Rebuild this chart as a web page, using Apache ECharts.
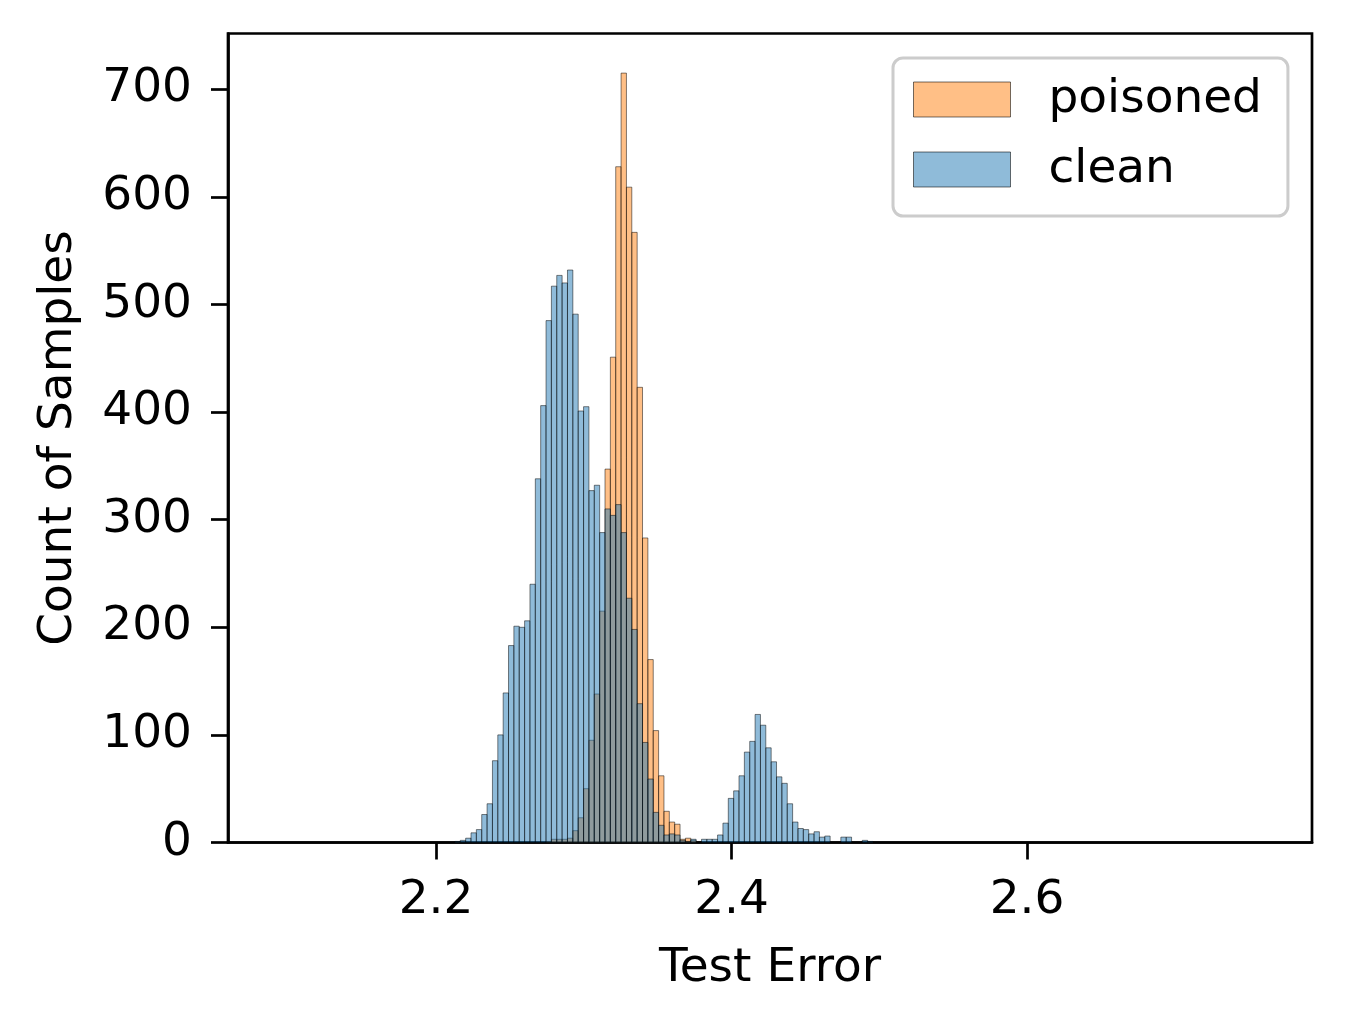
<!DOCTYPE html>
<html>
<head>
<meta charset="utf-8">
<script src="https://cdn.jsdelivr.net/npm/echarts@6/dist/echarts.min.js"></script>
<style>
html,body{margin:0;padding:0;background:#fff;}
#chart{width:1348px;height:1025px;}
</style>
</head>
<body>
<div id="chart"></div>
<script>
// Histogram bins (shared bin grid)
const binOrigin = 2.21279;   // left edge of first clean bin
const binWidth = 0.003628;

// clean counts, starting at bin 0
const cleanCounts = [1, 2, 4, 9, 12, 26, 36, 76, 100, 139, 183, 201, 200, 206, 240,
  338, 406, 485, 517, 527, 520, 532, 491, 401, 405, 327, 332, 288, 310, 304, 314, 288, 227, 198, 129, 93, 59, 28, 16, 7, 8, 7, 2, 1, 3, 0, 3, 3, 3,
  7, 18, 41, 48, 62, 84, 94, 119, 109, 88, 75, 61, 55, 36, 19, 13, 12, 8, 10, 5, 6, 0, 0, 5, 5, 0, 0, 2, 1];
// poisoned counts, starting at bin 17
const poisonedStartBin = 17;
const poisonedCounts = [1, 3, 3, 3, 4, 11, 23, 50, 95, 138, 215, 347, 451, 628, 715, 609, 567, 423, 283, 170, 104, 62, 29, 19, 17, 3, 4, 2];

const xTicks = [2.2, 2.4, 2.6];
const yTicks = [0, 100, 200, 300, 400, 500, 600, 700];
const seriesNames = ['poisoned', 'clean'];

function toRects(counts, startBin) {
  const out = [];
  counts.forEach((c, i) => {
    if (c <= 0) return;
    const x0 = binOrigin + (startBin + i) * binWidth;
    out.push([x0, x0 + binWidth, c]);
  });
  return out;
}

const fills = {
  poisoned: 'rgba(255,127,14,0.5)',
  clean: 'rgba(31,119,180,0.5)'
};
const edge = 'rgba(0,0,0,0.55)';

function makeSeries(name, data) {
  return {
    name: name,
    type: 'custom',
    data: data,
    encode: { x: [0, 1], y: 2 },
    itemStyle: { color: fills[name], borderColor: edge, borderWidth: 1 },
    renderItem: function (params, api) {
      const p0 = api.coord([api.value(0), api.value(2)]);
      const p1 = api.coord([api.value(1), 0]);
      return {
        type: 'rect',
        shape: { x: p0[0], y: p0[1], width: p1[0] - p0[0], height: p1[1] - p0[1] },
        style: { fill: fills[name], stroke: edge, lineWidth: 0.9 }
      };
    }
  };
}

const font = 'DejaVu Sans';
const chart = echarts.init(document.getElementById('chart'), null, { renderer: 'canvas' });
chart.setOption({
  animation: false,
  backgroundColor: '#fff',
  grid: { left: 228, right: 36, top: 33.5, bottom: 182.5, show: true, borderColor: '#000', borderWidth: 2.7, backgroundColor: 'transparent' },
  xAxis: {
    type: 'value', min: 2.0592, max: 2.7929,
    name: 'Test Error', nameLocation: 'middle', nameGap: 103,
    nameTextStyle: { fontFamily: font, fontSize: 47, color: '#000' },
    axisLine: { show: true, lineStyle: { color: '#000', width: 2.7 } },
    axisTick: { show: true, length: 17, lineStyle: { color: '#000', width: 2.7 }, customValues: xTicks },
    axisLabel: { fontFamily: font, fontSize: 47, color: '#000', margin: 35, customValues: xTicks, formatter: v => v.toFixed(1) },
    splitLine: { show: false }
  },
  yAxis: {
    type: 'value', min: 0, max: 751.8,
    name: 'Count of Samples', nameLocation: 'middle', nameGap: 146, nameRotate: 90,
    nameTextStyle: { fontFamily: font, fontSize: 47, color: '#000' },
    axisLine: { show: true, lineStyle: { color: '#000', width: 2.7 } },
    axisTick: { show: true, length: 17, lineStyle: { color: '#000', width: 2.7 }, customValues: yTicks },
    axisLabel: { fontFamily: font, fontSize: 47, color: '#000', margin: 36, customValues: yTicks },
    splitLine: { show: false }
  },
  legend: {
    orient: 'vertical', left: 893, top: 58,
    data: seriesNames.map(n => ({ name: n, icon: 'rect', itemStyle: { color: fills[n], borderColor: edge, borderWidth: 1 } })),
    itemWidth: 97, itemHeight: 35, itemGap: 23,
    padding: [18, 26, 23, 20],
    backgroundColor: '#fff', borderColor: '#cccccc', borderWidth: 3, borderRadius: 10,
    textStyle: { fontFamily: font, fontSize: 47, color: '#000', padding: [0, 0, 0, 33] }
  },
  series: [
    makeSeries('poisoned', toRects(poisonedCounts, poisonedStartBin)),
    makeSeries('clean', toRects(cleanCounts, 0))
  ]
});
</script>
</body>
</html>
